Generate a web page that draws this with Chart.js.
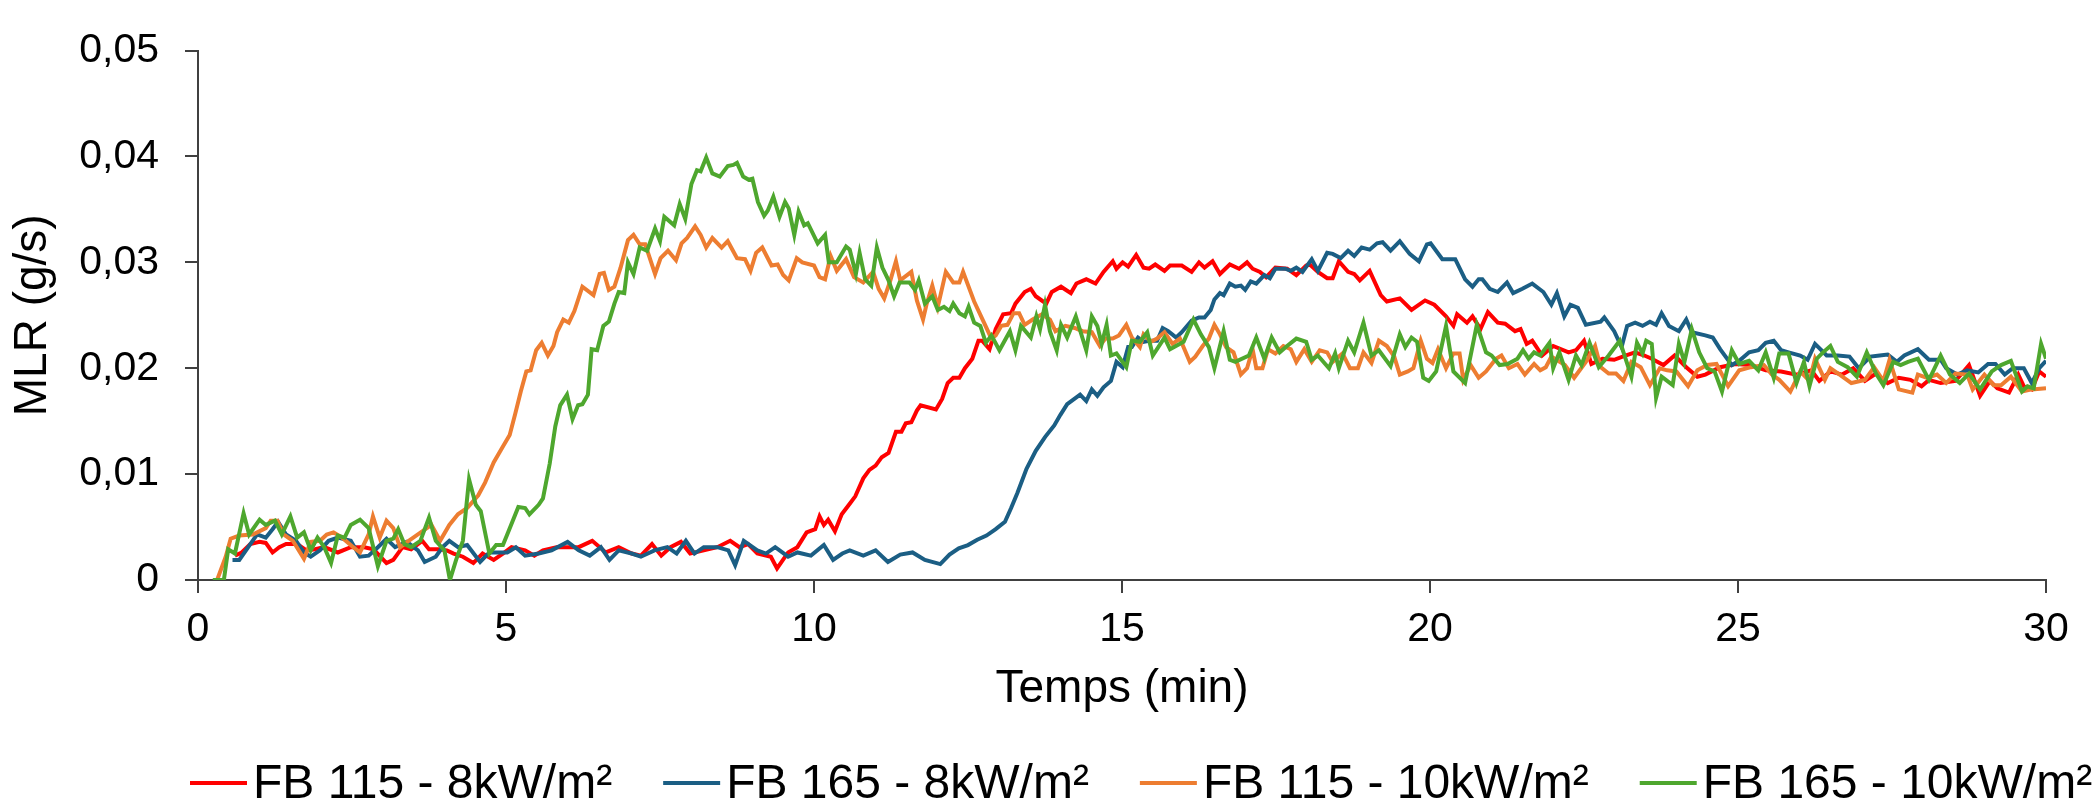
<!DOCTYPE html>
<html>
<head>
<meta charset="utf-8">
<script src="https://cdn.jsdelivr.net/npm/chart.js@4.4.1/dist/chart.umd.min.js"></script>
<style>
  html, body { margin: 0; padding: 0; background: #fff; }
  #wrap { width: 2095px; height: 809px; }
</style>
</head>
<body>
<div id="wrap"><canvas id="c" width="2095" height="809"></canvas></div>
<script>
const seriesLabels = ['FB 115 - 8kW/m²', 'FB 165 - 8kW/m²', 'FB 115 - 10kW/m²', 'FB 165 - 10kW/m²'];
const seriesColors = ['#ff0000', '#1b5e84', '#ed7d31', '#4ea72e'];
const yTickLabels = ['0', '0,01', '0,02', '0,03', '0,04', '0,05'];
const xTickLabels = ['0', '5', '10', '15', '20', '25', '30'];

// FB 115 - 8kW/m2
const redT = [0.60,0.71,0.85,1.00,1.10,1.21,1.32,1.43,1.61,1.76,1.90,2.05,2.27,2.48,2.70,2.85,3.06,3.17,3.32,3.46,3.64,3.75,3.90,4.04,4.15,4.30,4.47,4.62,4.80,4.95,5.09,5.31,5.46,5.60,5.82,6.04,6.18,6.40,6.62,6.83,7.04,7.19,7.37,7.52,7.67,7.84,7.99,8.21,8.43,8.64,8.79,8.93,9.08,9.30,9.40,9.58,9.73,9.88,10.02,10.09,10.16,10.23,10.34,10.45,10.58,10.67,10.80,10.90,11.00,11.10,11.21,11.33,11.42,11.49,11.58,11.67,11.73,11.98,12.08,12.17,12.26,12.36,12.45,12.57,12.67,12.73,12.85,12.95,13.07,13.20,13.27,13.42,13.52,13.60,13.77,13.86,14.01,14.17,14.26,14.42,14.57,14.70,14.85,14.91,15.01,15.10,15.23,15.35,15.44,15.54,15.69,15.78,15.97,16.13,16.25,16.34,16.47,16.59,16.75,16.90,17.03,17.12,17.24,17.34,17.49,17.68,17.83,17.99,18.05,18.18,18.33,18.42,18.52,18.67,18.77,18.86,19.02,19.20,19.30,19.51,19.70,19.92,20.07,20.26,20.38,20.44,20.60,20.69,20.82,20.94,21.10,21.22,21.38,21.47,21.57,21.66,21.82,22.00,22.25,22.37,22.50,22.62,22.80,22.99,23.17,23.33,23.48,23.60,23.79,23.97,24.16,24.34,24.47,24.71,24.96,25.21,25.45,25.70,25.95,26.19,26.32,26.50,26.69,26.87,27.06,27.24,27.43,27.61,27.80,27.98,28.10,28.29,28.53,28.75,28.93,29.09,29.21,29.40,29.55,29.64,29.77,29.89,30.00];
const redV = [0.0023,0.0026,0.0034,0.0036,0.0035,0.0026,0.0031,0.0034,0.0034,0.0028,0.0029,0.0031,0.0026,0.0031,0.0031,0.0029,0.0016,0.0019,0.0031,0.0029,0.0037,0.0029,0.0029,0.0028,0.0025,0.0022,0.0016,0.0025,0.0019,0.0025,0.0031,0.0028,0.0023,0.0028,0.0031,0.0031,0.0031,0.0037,0.0026,0.0031,0.0025,0.0023,0.0034,0.0023,0.0031,0.0036,0.0025,0.0028,0.0031,0.0037,0.0031,0.0034,0.0025,0.0022,0.0011,0.0026,0.0031,0.0045,0.0048,0.0060,0.0052,0.0057,0.0046,0.0062,0.0072,0.0079,0.0096,0.0104,0.0108,0.0116,0.0120,0.0140,0.0140,0.0148,0.0149,0.0160,0.0165,0.0161,0.0171,0.0186,0.0191,0.0191,0.0200,0.0209,0.0226,0.0226,0.0218,0.0237,0.0251,0.0252,0.0261,0.0272,0.0275,0.0268,0.0261,0.0272,0.0277,0.0271,0.0280,0.0284,0.0280,0.0291,0.0301,0.0294,0.0300,0.0296,0.0307,0.0295,0.0294,0.0298,0.0292,0.0297,0.0297,0.0291,0.0300,0.0295,0.0301,0.0289,0.0298,0.0294,0.0300,0.0294,0.0291,0.0286,0.0295,0.0294,0.0288,0.0297,0.0298,0.0291,0.0285,0.0285,0.0301,0.0291,0.0289,0.0283,0.0292,0.0269,0.0263,0.0266,0.0255,0.0264,0.0260,0.0249,0.0240,0.0251,0.0243,0.0249,0.0237,0.0253,0.0243,0.0242,0.0235,0.0237,0.0223,0.0226,0.0212,0.0221,0.0215,0.0217,0.0226,0.0204,0.0209,0.0208,0.0212,0.0215,0.0212,0.0209,0.0203,0.0212,0.0201,0.0192,0.0194,0.0201,0.0204,0.0203,0.0198,0.0197,0.0194,0.0198,0.0188,0.0197,0.0194,0.0200,0.0188,0.0195,0.0186,0.0191,0.0189,0.0183,0.0189,0.0186,0.0188,0.0203,0.0174,0.0188,0.0181,0.0177,0.0194,0.0183,0.0180,0.0197,0.0192];

// FB 165 - 8kW/m2
const blueT = [0.56,0.67,0.96,1.10,1.21,1.30,1.43,1.59,1.72,1.83,1.98,2.12,2.27,2.48,2.63,2.77,2.92,3.06,3.20,3.39,3.57,3.68,3.86,3.97,4.08,4.22,4.37,4.58,4.73,5.02,5.16,5.31,5.53,5.74,6.00,6.18,6.36,6.54,6.68,6.83,7.04,7.19,7.41,7.62,7.77,7.92,8.06,8.21,8.43,8.61,8.72,8.86,9.08,9.22,9.37,9.58,9.73,9.95,10.16,10.31,10.46,10.58,10.80,11.00,11.20,11.40,11.60,11.80,12.05,12.20,12.35,12.50,12.65,12.80,12.95,13.10,13.20,13.30,13.45,13.60,13.75,13.90,14.00,14.11,14.32,14.42,14.51,14.60,14.70,14.82,14.91,15.01,15.10,15.16,15.26,15.35,15.44,15.57,15.66,15.75,15.88,15.97,16.13,16.25,16.34,16.44,16.50,16.59,16.65,16.75,16.84,16.93,17.00,17.09,17.18,17.31,17.40,17.49,17.65,17.74,17.83,17.93,18.08,18.18,18.33,18.42,18.55,18.67,18.77,18.89,19.02,19.14,19.23,19.36,19.51,19.67,19.82,19.95,20.01,20.20,20.41,20.57,20.69,20.79,20.85,20.97,21.10,21.25,21.35,21.50,21.66,21.84,21.97,22.06,22.18,22.28,22.40,22.53,22.77,22.83,22.99,23.11,23.20,23.33,23.45,23.57,23.67,23.76,23.88,24.04,24.16,24.25,24.47,24.59,24.71,24.90,25.02,25.18,25.33,25.45,25.58,25.70,25.82,26.01,26.13,26.25,26.44,26.62,26.81,26.96,27.15,27.30,27.43,27.58,27.70,27.92,28.10,28.29,28.38,28.56,28.72,28.90,29.06,29.18,29.33,29.46,29.64,29.77,29.89,30.00];
const blueV = [0.0019,0.0019,0.0043,0.0040,0.0048,0.0055,0.0043,0.0037,0.0026,0.0022,0.0028,0.0037,0.0040,0.0037,0.0022,0.0023,0.0031,0.0039,0.0031,0.0036,0.0028,0.0017,0.0022,0.0031,0.0037,0.0031,0.0033,0.0017,0.0026,0.0026,0.0031,0.0023,0.0025,0.0028,0.0036,0.0028,0.0023,0.0031,0.0019,0.0028,0.0025,0.0022,0.0028,0.0031,0.0025,0.0037,0.0025,0.0031,0.0031,0.0028,0.0014,0.0037,0.0028,0.0025,0.0031,0.0022,0.0026,0.0023,0.0033,0.0019,0.0025,0.0028,0.0023,0.0028,0.0017,0.0024,0.0026,0.0019,0.0015,0.0024,0.0030,0.0033,0.0038,0.0042,0.0048,0.0055,0.0068,0.0082,0.0105,0.0122,0.0135,0.0146,0.0156,0.0166,0.0175,0.0169,0.0180,0.0174,0.0182,0.0188,0.0206,0.0201,0.0220,0.0220,0.0229,0.0225,0.0226,0.0226,0.0238,0.0235,0.0229,0.0234,0.0245,0.0248,0.0248,0.0255,0.0265,0.0271,0.0269,0.0280,0.0277,0.0278,0.0274,0.0282,0.0280,0.0288,0.0285,0.0294,0.0294,0.0292,0.0295,0.0291,0.0303,0.0292,0.0309,0.0308,0.0304,0.0311,0.0306,0.0314,0.0312,0.0318,0.0319,0.0311,0.0320,0.0308,0.0301,0.0317,0.0318,0.0303,0.0303,0.0284,0.0277,0.0284,0.0284,0.0275,0.0272,0.0281,0.0271,0.0275,0.0280,0.0272,0.0260,0.0271,0.0249,0.0260,0.0257,0.0241,0.0244,0.0248,0.0235,0.0220,0.0240,0.0243,0.0240,0.0244,0.0241,0.0252,0.0240,0.0235,0.0246,0.0234,0.0231,0.0229,0.0218,0.0203,0.0207,0.0215,0.0217,0.0224,0.0226,0.0217,0.0215,0.0212,0.0208,0.0223,0.0212,0.0212,0.0211,0.0200,0.0211,0.0212,0.0213,0.0206,0.0212,0.0218,0.0208,0.0208,0.0200,0.0194,0.0198,0.0196,0.0204,0.0204,0.0194,0.0200,0.0200,0.0186,0.0200,0.0207];

// FB 115 - 10kW/m2
const orangeT = [0.31,0.45,0.53,0.67,0.89,1.10,1.18,1.29,1.39,1.54,1.72,1.83,1.98,2.09,2.20,2.34,2.52,2.63,2.77,2.84,2.95,3.06,3.17,3.28,3.42,3.57,3.79,3.93,4.08,4.22,4.37,4.55,4.66,4.80,4.95,5.06,5.15,5.24,5.33,5.40,5.49,5.58,5.68,5.77,5.83,5.93,6.02,6.11,6.24,6.42,6.52,6.59,6.67,6.76,6.86,6.98,7.07,7.17,7.26,7.42,7.51,7.63,7.76,7.85,7.94,8.07,8.16,8.25,8.35,8.50,8.60,8.75,8.88,8.97,9.06,9.16,9.31,9.41,9.50,9.59,9.72,9.81,10.00,10.09,10.18,10.27,10.37,10.52,10.65,10.80,10.96,11.05,11.14,11.24,11.33,11.40,11.58,11.67,11.77,11.83,11.92,12.01,12.14,12.26,12.36,12.42,12.60,12.76,12.88,12.95,13.04,13.14,13.24,13.33,13.42,13.55,13.70,13.83,13.92,14.08,14.23,14.36,14.51,14.64,14.73,14.85,14.95,15.07,15.16,15.29,15.35,15.47,15.57,15.69,15.82,15.94,16.10,16.19,16.31,16.41,16.50,16.59,16.69,16.81,16.93,17.03,17.12,17.18,17.28,17.37,17.49,17.62,17.74,17.83,17.96,18.08,18.21,18.33,18.42,18.58,18.70,18.83,18.92,19.05,19.17,19.30,19.42,19.51,19.64,19.73,19.85,19.95,20.04,20.13,20.26,20.38,20.48,20.54,20.66,20.79,20.91,21.07,21.16,21.28,21.42,21.54,21.69,21.79,21.88,21.97,22.19,22.34,22.53,22.68,22.77,22.90,23.02,23.14,23.27,23.42,23.57,23.73,23.85,24.00,24.19,24.34,24.50,24.65,24.84,25.02,25.21,25.42,25.55,25.67,25.85,26.01,26.16,26.25,26.41,26.50,26.65,26.84,27.06,27.21,27.36,27.46,27.61,27.83,27.92,28.07,28.23,28.38,28.53,28.72,28.81,29.00,29.15,29.27,29.43,29.61,29.77,30.00];
const orangeV = [0,0.0022,0.0039,0.0042,0.0043,0.0049,0.0056,0.0056,0.0043,0.0037,0.0020,0.0036,0.0037,0.0043,0.0045,0.0040,0.0031,0.0026,0.0043,0.0060,0.0040,0.0056,0.0049,0.0031,0.0037,0.0043,0.0052,0.0037,0.0052,0.0062,0.0068,0.0080,0.0092,0.0111,0.0126,0.0137,0.0157,0.0178,0.0197,0.0198,0.0217,0.0224,0.0212,0.0221,0.0234,0.0246,0.0243,0.0254,0.0277,0.0269,0.0289,0.0290,0.0274,0.0277,0.0295,0.0321,0.0326,0.0317,0.0317,0.0289,0.0304,0.0311,0.0302,0.0318,0.0323,0.0334,0.0326,0.0314,0.0323,0.0314,0.0320,0.0304,0.0303,0.0292,0.0309,0.0314,0.0297,0.0298,0.0288,0.0283,0.0304,0.0300,0.0297,0.0286,0.0284,0.0306,0.0292,0.0303,0.0286,0.0281,0.0291,0.0275,0.0266,0.0283,0.0301,0.0283,0.0291,0.0264,0.0246,0.0261,0.0278,0.0258,0.0291,0.0281,0.0281,0.0291,0.0263,0.0243,0.0228,0.0231,0.0240,0.0241,0.0252,0.0252,0.0241,0.0246,0.0251,0.0246,0.0235,0.0240,0.0238,0.0235,0.0234,0.0221,0.0228,0.0228,0.0231,0.0241,0.0229,0.0220,0.0232,0.0225,0.0228,0.0234,0.0223,0.0228,0.0206,0.0211,0.0221,0.0228,0.0241,0.0232,0.0220,0.0215,0.0194,0.0200,0.0218,0.0200,0.0200,0.0218,0.0214,0.0221,0.0218,0.0206,0.0218,0.0206,0.0217,0.0215,0.0206,0.0214,0.0200,0.0200,0.0215,0.0205,0.0226,0.0221,0.0211,0.0194,0.0197,0.0200,0.0226,0.0209,0.0205,0.0218,0.0200,0.0214,0.0214,0.0189,0.0203,0.0191,0.0197,0.0209,0.0212,0.0200,0.0204,0.0194,0.0204,0.0198,0.0201,0.0211,0.0203,0.0191,0.0206,0.0221,0.0201,0.0195,0.0195,0.0188,0.0206,0.0201,0.0184,0.0200,0.0198,0.0197,0.0183,0.0198,0.0203,0.0204,0.0183,0.0198,0.0201,0.0203,0.0194,0.0189,0.0178,0.0197,0.0188,0.0209,0.0189,0.0200,0.0194,0.0186,0.0189,0.0201,0.0188,0.0208,0.0180,0.0177,0.0194,0.0191,0.0194,0.0186,0.0195,0.0194,0.0180,0.0194,0.0184,0.0184,0.0192,0.0178,0.0180,0.0181];

// FB 165 - 10kW/m2
const greenT = [0.24,0.42,0.49,0.60,0.74,0.83,1.00,1.10,1.25,1.36,1.50,1.61,1.72,1.83,1.94,2.05,2.16,2.27,2.38,2.48,2.63,2.77,2.92,3.06,3.17,3.25,3.35,3.46,3.61,3.75,3.86,4.00,4.09,4.19,4.30,4.40,4.51,4.59,4.73,4.84,4.95,5.02,5.20,5.31,5.38,5.53,5.60,5.71,5.80,5.88,5.99,6.08,6.17,6.24,6.33,6.39,6.48,6.58,6.67,6.76,6.83,6.92,6.98,7.07,7.17,7.29,7.42,7.50,7.57,7.73,7.82,7.91,8.01,8.10,8.16,8.25,8.35,8.47,8.60,8.69,8.75,8.85,8.94,9.00,9.09,9.19,9.25,9.34,9.44,9.53,9.59,9.68,9.75,9.84,9.90,10.06,10.18,10.24,10.37,10.52,10.58,10.68,10.74,10.83,10.93,11.02,11.11,11.21,11.30,11.39,11.55,11.64,11.70,11.80,11.92,12.01,12.11,12.20,12.26,12.36,12.45,12.51,12.60,12.70,12.79,12.88,13.01,13.18,13.27,13.36,13.52,13.61,13.67,13.75,13.83,13.94,14.01,14.11,14.25,14.42,14.51,14.60,14.67,14.75,14.82,14.91,15.07,15.16,15.29,15.41,15.50,15.69,15.78,16.00,16.16,16.28,16.41,16.50,16.65,16.75,16.84,17.06,17.18,17.31,17.43,17.56,17.68,17.83,17.99,18.08,18.18,18.36,18.46,18.52,18.67,18.77,18.92,19.05,19.17,19.36,19.51,19.60,19.70,19.79,19.89,19.98,20.10,20.26,20.38,20.57,20.76,20.91,21.00,21.13,21.26,21.42,21.51,21.60,21.69,21.79,21.94,22.00,22.10,22.25,22.37,22.46,22.59,22.74,22.90,23.08,23.27,23.36,23.45,23.51,23.60,23.67,23.76,23.94,24.04,24.13,24.25,24.37,24.50,24.62,24.74,24.90,25.02,25.18,25.33,25.45,25.58,25.67,25.82,25.95,26.07,26.16,26.28,26.38,26.50,26.62,26.78,26.93,27.09,27.24,27.36,27.52,27.64,27.76,27.92,28.10,28.29,28.44,28.60,28.75,28.93,29.12,29.27,29.43,29.61,29.70,29.80,29.92,30.00];
const greenV = [0,0,0.0029,0.0025,0.0063,0.0043,0.0057,0.0052,0.0056,0.0043,0.0060,0.0040,0.0045,0.0028,0.0040,0.0031,0.0016,0.0042,0.0040,0.0052,0.0057,0.0049,0.0013,0.0037,0.0039,0.0048,0.0034,0.0031,0.0037,0.0059,0.0037,0.0028,0,0.0019,0.0037,0.0095,0.0071,0.0065,0.0025,0.0033,0.0033,0.0043,0.0069,0.0068,0.0062,0.0071,0.0077,0.0110,0.0145,0.0165,0.0175,0.0152,0.0165,0.0166,0.0175,0.0218,0.0217,0.0240,0.0244,0.0261,0.0272,0.0271,0.0300,0.0289,0.0314,0.0311,0.0332,0.0320,0.0343,0.0335,0.0355,0.0341,0.0374,0.0387,0.0386,0.0399,0.0384,0.0381,0.0391,0.0392,0.0394,0.0381,0.0378,0.0379,0.0357,0.0344,0.0349,0.0362,0.0343,0.0357,0.0351,0.0326,0.0348,0.0335,0.0337,0.0318,0.0326,0.0300,0.0300,0.0315,0.0312,0.0289,0.0309,0.0284,0.0278,0.0314,0.0295,0.0283,0.0268,0.0281,0.0281,0.0274,0.0283,0.0261,0.0268,0.0255,0.0258,0.0254,0.0261,0.0252,0.0249,0.0258,0.0243,0.0240,0.0224,0.0231,0.0217,0.0235,0.0217,0.0240,0.0229,0.0249,0.0237,0.0260,0.0235,0.0217,0.0241,0.0229,0.0249,0.0217,0.0249,0.0240,0.0223,0.0241,0.0212,0.0214,0.0201,0.0226,0.0225,0.0234,0.0212,0.0229,0.0218,0.0225,0.0246,0.0232,0.0220,0.0200,0.0235,0.0208,0.0206,0.0212,0.0229,0.0209,0.0229,0.0215,0.0221,0.0228,0.0225,0.0208,0.0212,0.0200,0.0214,0.0200,0.0226,0.0215,0.0243,0.0212,0.0217,0.0202,0.0232,0.0220,0.0229,0.0225,0.0191,0.0188,0.0197,0.0240,0.0197,0.0186,0.0241,0.0215,0.0212,0.0203,0.0204,0.0209,0.0217,0.0209,0.0215,0.0212,0.0224,0.0200,0.0215,0.0189,0.0212,0.0203,0.0224,0.0201,0.0212,0.0226,0.0192,0.0224,0.0214,0.0226,0.0223,0.0172,0.0192,0.0184,0.0223,0.0206,0.0237,0.0215,0.0200,0.0197,0.0178,0.0217,0.0204,0.0207,0.0198,0.0215,0.0191,0.0214,0.0214,0.0186,0.0206,0.0183,0.0209,0.0215,0.0221,0.0206,0.0201,0.0192,0.0215,0.0195,0.0184,0.0206,0.0203,0.0206,0.0209,0.0189,0.0212,0.0194,0.0186,0.0195,0.0180,0.0197,0.0203,0.0207,0.0178,0.0183,0.0181,0.0223,0.0209];

const seriesT = [redT, blueT, orangeT, greenT];
const seriesV = [redV, blueV, orangeV, greenV];

const FONT = '"Liberation Sans", Arial, Helvetica, sans-serif';
const AXIS_COLOR = '#404040';

const datasets = seriesLabels.map((label, i) => ({
  label,
  data: seriesT[i].map((t, k) => ({ x: t, y: seriesV[i][k] })),
  borderColor: seriesColors[i],
  backgroundColor: seriesColors[i],
  borderWidth: 4,
  pointRadius: 0,
  tension: 0,
  fill: false,
  order: 3 - i
}));

const customLegend = {
  id: 'customLegend',
  afterDraw(chart) {
    const ctx = chart.ctx;
    ctx.save();
    ctx.font = '48px ' + FONT;
    ctx.textBaseline = 'alphabetic';
    ctx.textAlign = 'left';
    let x = 190;
    const yLine = 783, yText = 798, lineLen = 57, gap = 6, spacing = 51;
    chart.data.datasets.forEach(ds => {
      ctx.strokeStyle = ds.borderColor;
      ctx.lineWidth = 4;
      ctx.beginPath();
      ctx.moveTo(x, yLine);
      ctx.lineTo(x + lineLen, yLine);
      ctx.stroke();
      ctx.fillStyle = '#000';
      ctx.fillText(ds.label, x + lineLen + gap, yText);
      x += lineLen + gap + ctx.measureText(ds.label).width + spacing;
    });
    ctx.restore();
  }
};

new Chart(document.getElementById('c'), {
  type: 'line',
  data: { datasets },
  plugins: [customLegend],
  options: {
    responsive: false,
    devicePixelRatio: 1,
    animation: false,
    layout: { padding: { left: 0, top: 38, right: 49, bottom: 89 } },
    plugins: { legend: { display: false }, tooltip: { enabled: false } },
    scales: {
      x: {
        type: 'linear',
        min: 0, max: 30,
        afterFit(scale) { scale.height = 140; },
        afterBuildTicks(scale) { scale.ticks = xTickLabels.map(v => ({ value: Number(v) })); },
        ticks: {
          font: { family: FONT, size: 41 },
          color: '#000',
          padding: 12,
          maxRotation: 0,
          callback: (v, i) => xTickLabels[i]
        },
        grid: { display: true, drawOnChartArea: false, drawTicks: true, tickLength: 13, color: AXIS_COLOR, lineWidth: 2 },
        border: { display: true, color: AXIS_COLOR, width: 2 },
        title: { display: true, text: 'Temps (min)', color: '#000', font: { family: FONT, size: 46 }, padding: { top: 0, bottom: 3 } }
      },
      y: {
        type: 'linear',
        min: 0, max: 0.05,
        afterFit(scale) { scale.width = 198; },
        afterBuildTicks(scale) { scale.ticks = yTickLabels.map((s, i) => ({ value: i * 0.01 })); },
        ticks: {
          font: { family: FONT, size: 41 },
          color: '#000',
          padding: 26,
          callback: (v, i) => yTickLabels[i]
        },
        grid: { display: true, drawOnChartArea: false, drawTicks: true, tickLength: 13, color: AXIS_COLOR, lineWidth: 2 },
        border: { display: true, color: AXIS_COLOR, width: 2 },
        title: { display: true, text: 'MLR (g/s)', color: '#000', font: { family: FONT, size: 46 }, padding: { top: 6, bottom: 0 } }
      }
    }
  }
});
</script>
</body>
</html>
